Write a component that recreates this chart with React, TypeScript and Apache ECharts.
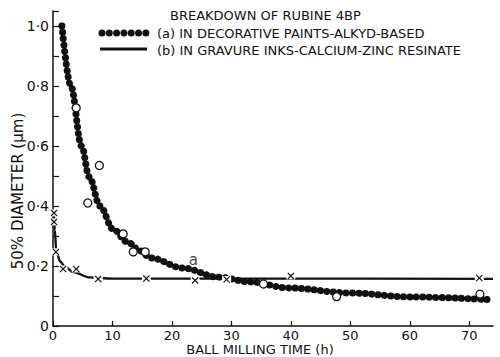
import React, { useEffect, useRef } from "react";
import * as echarts from "echarts";

// Curve (a): decorative paints, alkyd-based (smooth fitted curve, drawn as dots)
const curveAX = [1.5, 3.0, 4.8, 6.1, 7.9, 10.1, 12.5, 14.7, 16.4, 21.9, 27.7, 33.2, 39.5, 50, 60, 74];
const curveAY = [1.0, 0.8, 0.6, 0.497, 0.4, 0.323, 0.28, 0.25, 0.227, 0.193, 0.163, 0.147, 0.127, 0.11, 0.097, 0.087];

// Measured points for (a): open circles
const circlesX = [3.9, 5.85, 7.8, 11.8, 13.5, 15.5, 35.4, 47.7, 71.8];
const circlesY = [0.727, 0.41, 0.535, 0.307, 0.247, 0.247, 0.14, 0.098, 0.106];

// Curve (b): gravure inks, calcium-zinc resinate
const curveBX = [0.15, 0.3, 0.55, 1.2, 2.0, 3.4, 6.2, 10, 40, 74];
const curveBY = [0.38, 0.32, 0.25, 0.215, 0.198, 0.18, 0.162, 0.158, 0.158, 0.157];

// Measured points for (b): crosses
const crossX = [0.17, 0.17, 0.5, 1.7, 3.9, 7.6, 15.7, 23.9, 29.2, 40, 71.7];
const crossY = [0.377, 0.347, 0.247, 0.19, 0.19, 0.157, 0.158, 0.152, 0.155, 0.167, 0.16];

// Curve label
const labelA = { x: 23.6, y: 0.22, text: "a" };

const title = "BREAKDOWN OF RUBINE 4BP";
const legendA = "(a) IN DECORATIVE PAINTS-ALKYD-BASED";
const legendB = "(b) IN GRAVURE INKS-CALCIUM-ZINC RESINATE";
const xName = "BALL MILLING TIME (h)";
const yName = "50% DIAMETER (\u03bcm)";

const FONT = "DejaVu Sans";
const INK = "#111";

const zip = (xs: number[], ys: number[]) => xs.map((x, i) => [x, ys[i]]);

export default function App() {
  const ref = useRef<HTMLDivElement>(null);
  useEffect(() => {
    if (!ref.current) return;
    const chart = echarts.init(ref.current, null, { renderer: "svg" });
    const crossPath =
      "path://M0,1.2 L1.2,0 L5,3.8 L8.8,0 L10,1.2 L6.2,5 L10,8.8 L8.8,10 L5,6.2 L1.2,10 L0,8.8 L3.8,5 Z";
    chart.setOption({
      animation: false,
      backgroundColor: "#fff",
      grid: { left: 53, right: 7, top: 11, bottom: 31, containLabel: false },
      xAxis: {
        type: "value",
        min: 0,
        max: 74,
        interval: 10,
        axisLine: { show: true, lineStyle: { color: INK, width: 1.5 } },
        axisTick: { show: true, inside: true, length: 5, lineStyle: { color: INK, width: 1.2 } },
        axisLabel: {
          color: INK,
          fontFamily: FONT,
          fontSize: 13,
          margin: 3,
          showMaxLabel: false,
          formatter: (v: number) => (v <= 70 ? String(v) : ""),
        },
        splitLine: { show: false },
      },
      yAxis: {
        type: "value",
        min: 0,
        max: 1.05,
        interval: 0.1,
        axisLine: { show: true, lineStyle: { color: INK, width: 1.5 } },
        axisTick: { show: true, inside: true, length: 6, lineStyle: { color: INK, width: 1.2 } },
        axisLabel: {
          color: INK,
          fontFamily: FONT,
          fontSize: 14,
          margin: 4,
          formatter: (v: number) => {
            const k = Math.round(v * 10);
            if (k % 2 !== 0 || v > 1.001) return "";
            if (k === 0) return "0";
            return v.toFixed(1).replace(".", "\u00b7");
          },
        },
        splitLine: { show: false },
      },
      series: [
        {
          type: "line",
          data: zip(curveBX, curveBY),
          smooth: 0.35,
          smoothMonotone: "x",
          showSymbol: false,
          lineStyle: { color: INK, width: 2.4 },
          z: 2,
        },
        {
          type: "line",
          data: zip(curveAX, curveAY),
          smooth: 0.35,
          smoothMonotone: "x",
          showSymbol: false,
          lineStyle: { color: INK, width: 7, type: [0.01, 6.4], cap: "round" },
          z: 3,
        },
        {
          type: "scatter",
          data: zip(crossX, crossY),
          symbol: "rect",
          symbolSize: [9, 7],
          itemStyle: { color: "#fff", opacity: 1 },
          clip: false,
          z: 4,
        },
        {
          type: "scatter",
          data: zip(crossX, crossY),
          symbol: crossPath,
          symbolSize: 7,
          itemStyle: { color: INK, opacity: 1 },
          clip: false,
          z: 5,
        },
        {
          type: "scatter",
          data: zip(circlesX, circlesY),
          symbol: "circle",
          symbolSize: 8,
          itemStyle: { color: "#fff", borderColor: INK, borderWidth: 1.3, opacity: 1 },
          clip: false,
          z: 6,
        },
        {
          type: "scatter",
          data: [[labelA.x, labelA.y]],
          symbolSize: 0,
          label: {
            show: true,
            position: "inside",
            formatter: labelA.text,
            color: INK,
            fontFamily: FONT,
            fontSize: 15,
          },
          z: 7,
        },
      ],
      graphic: [
        {
          type: "text",
          x: 170,
          y: 15,
          style: { text: title, fill: INK, font: `13px "${FONT}"`, align: "left", verticalAlign: "middle" },
        },
        {
          type: "line",
          shape: { x1: 102, y1: 33, x2: 146, y2: 33 },
          style: { stroke: INK, lineWidth: 7, lineDash: [0.01, 7.3], lineCap: "round" },
        },
        {
          type: "text",
          x: 157,
          y: 33,
          style: { text: legendA, fill: INK, font: `13px "${FONT}"`, align: "left", verticalAlign: "middle" },
        },
        {
          type: "line",
          shape: { x1: 100, y1: 49, x2: 147, y2: 49 },
          style: { stroke: INK, lineWidth: 3 },
        },
        {
          type: "text",
          x: 157,
          y: 50,
          style: { text: legendB, fill: INK, font: `13px "${FONT}"`, align: "left", verticalAlign: "middle" },
        },
        {
          type: "text",
          x: 260,
          y: 349,
          style: { text: xName, fill: INK, font: `13px "${FONT}"`, align: "center", verticalAlign: "middle" },
        },
        {
          type: "text",
          x: 18,
          y: 191,
          rotation: Math.PI / 2,
          style: { text: yName, fill: INK, font: `15px "${FONT}"`, align: "center", verticalAlign: "middle" },
        },
      ],
    });
    return () => chart.dispose();
  }, []);
  return <div ref={ref} style={{ width: 500, height: 357, position: "absolute", left: 0, top: 0 }} />;
}
